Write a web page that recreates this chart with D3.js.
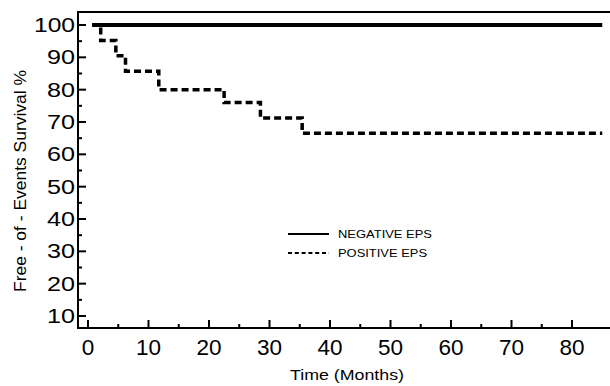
<!DOCTYPE html>
<html><head><meta charset="utf-8">
<script src="https://cdn.jsdelivr.net/npm/d3@7"></script>
<style>html,body{margin:0;padding:0;background:#fff;}svg{display:block;font-family:"Liberation Sans",Arial,Helvetica,sans-serif;}text{fill:#000;}</style>
</head><body>
<svg id="c" width="610" height="386"></svg>
<script>
// Data
const negTimes = [0.7, 85];
const negSurv = [100, 100];
const posTimes = [0.7, 2.1, 4.6, 6.2, 11.7, 22.5, 28.5, 35.4, 85];
const posSurv = [100, 95.2, 90.5, 85.7, 80.0, 76.0, 71.2, 66.5, 66.5];
const xTicks = [0, 10, 20, 30, 40, 50, 60, 70, 80];
const xMinor = [5, 15, 25, 35, 45, 55, 65, 75];
const yTicks = [10, 20, 30, 40, 50, 60, 70, 80, 90, 100];
const yMinor = [15, 25, 35, 45, 55, 65, 75, 85, 95];
const seriesNames = ["NEGATIVE EPS", "POSITIVE EPS"];

(function () {
const svg = d3.select("#c");
const x = d3.scaleLinear().domain([0, 80]).range([88, 572]);
const y = d3.scaleLinear().domain([10, 100]).range([316, 25]);
const pLeft = 78, pRight = 610, pTop = 12, pBottom = 328;

// frame lines
svg.append("line").attr("x1", pLeft).attr("x2", pRight).attr("y1", pTop).attr("y2", pTop).attr("stroke", "#000").attr("stroke-width", 2);
svg.append("line").attr("x1", pLeft).attr("x2", pLeft).attr("y1", pTop - 1).attr("y2", pBottom + 1).attr("stroke", "#000").attr("stroke-width", 2);
svg.append("line").attr("x1", pLeft - 1).attr("x2", pRight).attr("y1", pBottom).attr("y2", pBottom).attr("stroke", "#000").attr("stroke-width", 2);

// y ticks (inward)
svg.selectAll(".ytm").data(yTicks).join("line").attr("x1", pLeft).attr("x2", pLeft + 8)
  .attr("y1", d => y(d)).attr("y2", d => y(d)).attr("stroke", "#000").attr("stroke-width", 2);
svg.selectAll(".ytn").data(yMinor).join("line").attr("x1", pLeft).attr("x2", pLeft + 4)
  .attr("y1", d => y(d)).attr("y2", d => y(d)).attr("stroke", "#000").attr("stroke-width", 2);
svg.selectAll(".ytl").data(yTicks).join("text")
  .attr("x", 75).attr("y", d => y(d) + 7)
  .attr("text-anchor", "end").attr("font-size", 19.5)
  .attr("textLength", d => String(d).length === 3 ? 41 : 28)
  .attr("lengthAdjust", "spacingAndGlyphs")
  .text(d => d);

// x ticks (inward)
svg.selectAll(".xtm").data(xTicks).join("line").attr("y1", pBottom).attr("y2", pBottom - 8)
  .attr("x1", d => x(d)).attr("x2", d => x(d)).attr("stroke", "#000").attr("stroke-width", 2);
svg.selectAll(".xtn").data(xMinor).join("line").attr("y1", pBottom).attr("y2", pBottom - 4)
  .attr("x1", d => x(d)).attr("x2", d => x(d)).attr("stroke", "#000").attr("stroke-width", 2);
svg.selectAll(".xtl").data(xTicks).join("text")
  .attr("x", d => x(d)).attr("y", 355)
  .attr("text-anchor", "middle").attr("font-size", 22.5)
  .text(d => d);

// axis titles
svg.append("text").attr("x", 347).attr("y", 380).attr("text-anchor", "middle")
  .attr("font-size", 15.5).attr("textLength", 114).attr("lengthAdjust", "spacingAndGlyphs")
  .text("Time (Months)");
svg.append("g").attr("opacity", 0.999)
  .append("text").attr("transform", "translate(26,181) rotate(-90)").attr("text-anchor", "middle")
  .attr("font-size", 16.5).attr("textLength", 222).attr("lengthAdjust", "spacingAndGlyphs")
  .attr("fill", "#000")
  .text("Free - of - Events Survival %");

// lines
const line = d3.line().curve(d3.curveStepAfter).x(d => x(d[0])).y(d => y(d[1]));
svg.append("path").datum(posTimes.map((t, i) => [t, posSurv[i]]))
  .attr("d", line).attr("fill", "none").attr("stroke", "#000").attr("stroke-width", 3.5)
  .attr("stroke-dasharray", "7,4");
svg.append("path").datum(negTimes.map((t, i) => [t, negSurv[i]]))
  .attr("d", line).attr("fill", "none").attr("stroke", "#000").attr("stroke-width", 4);

// legend
const lg = svg.append("g");
lg.append("line").attr("x1", 288).attr("x2", 329).attr("y1", 234).attr("y2", 234).attr("stroke", "#000").attr("stroke-width", 2);
lg.append("line").attr("x1", 288).attr("x2", 329).attr("y1", 253).attr("y2", 253).attr("stroke", "#000").attr("stroke-width", 2).attr("stroke-dasharray", "4,2.8");
lg.append("text").attr("x", 338).attr("y", 238).attr("font-size", 11.5).attr("textLength", 94).attr("lengthAdjust", "spacingAndGlyphs").text(seriesNames[0]);
lg.append("text").attr("x", 338).attr("y", 257).attr("font-size", 11.5).attr("textLength", 89).attr("lengthAdjust", "spacingAndGlyphs").text(seriesNames[1]);
})();
</script>
</body></html>
